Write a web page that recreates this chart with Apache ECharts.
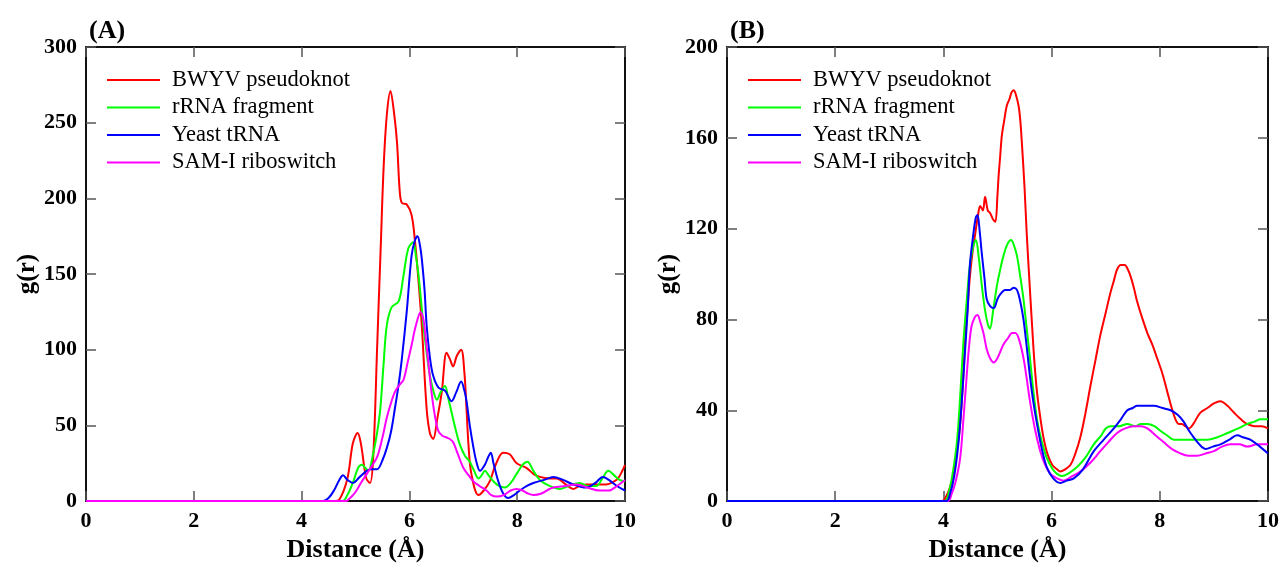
<!DOCTYPE html>
<html>
<head>
<meta charset="utf-8">
<script src="https://cdn.jsdelivr.net/npm/echarts@6/dist/echarts.min.js"></script>
<style>html,body{margin:0;padding:0;background:#fff}#c{width:1287px;height:568px}</style>
</head>
<body>
<div id="c"></div>
<script>
// ---------- data ----------
const seriesNames = ['BWYV pseudoknot', 'rRNA fragment', 'Yeast tRNA', 'SAM-I riboswitch'];
const seriesColors = ['#ff0000', '#00ff00', '#0000ff', '#ff00ff'];
const xTicksA = [0, 2, 4, 6, 8, 10];
const yTicksA = [0, 50, 100, 150, 200, 250, 300];
const yTicksB = [0, 40, 80, 120, 160, 200];

// Panel A
const bwyvA = [[0,0],[4.6,0],[4.7,1],[4.85,15],[4.95,38],[5.04,45],[5.1,38],[5.2,15],[5.27,12],[5.33,30],[5.4,100],[5.46,160],[5.55,240],[5.65,271],[5.72,255],[5.77,237],[5.82,205],[5.86,197],[5.95,196],[6.04,189],[6.1,173],[6.17,145],[6.23,116],[6.32,61],[6.38,45],[6.44,41],[6.52,55],[6.6,72],[6.69,98],[6.75,94],[6.81,89],[6.88,96],[6.96,100],[7.02,85],[7.06,61],[7.1,35],[7.15,18],[7.28,4],[7.38,7],[7.49,13],[7.6,24],[7.74,32],[7.86,31],[7.99,25],[8.17,22],[8.3,18],[8.42,16],[8.6,15],[8.73,15],[8.9,11],[9.04,8],[9.15,10],[9.28,11],[9.5,11],[9.65,11],[9.8,13],[9.87,15],[9.95,20],[10,24]];
const rrnaA = [[0,0],[4.75,0],[4.85,4],[4.95,12],[5.05,22],[5.12,24],[5.18,22],[5.24,20],[5.32,30],[5.4,45],[5.46,61],[5.52,90],[5.58,116],[5.67,128],[5.8,132],[5.89,149],[5.98,167],[6.07,171],[6.12,162],[6.17,149],[6.26,116],[6.32,98],[6.38,83],[6.45,72],[6.51,67],[6.58,72],[6.66,76],[6.72,68],[6.78,59],[6.86,47],[6.94,37],[7.03,30],[7.12,26],[7.2,20],[7.28,15],[7.34,17],[7.4,20],[7.47,17],[7.56,13],[7.66,10],[7.77,9],[7.88,12],[7.99,18],[8.1,24],[8.19,26],[8.3,20],[8.42,14],[8.6,10],[8.79,8],[8.95,10],[9.16,12],[9.3,10],[9.47,10],[9.58,15],[9.69,20],[9.8,17],[9.9,14],[10,13]];
const yeastA = [[0,0],[4.4,0],[4.5,2],[4.6,7],[4.7,14],[4.77,17],[4.85,14],[4.95,12],[5.08,16],[5.21,20],[5.3,21],[5.4,21],[5.5,27],[5.58,35],[5.66,46],[5.73,61],[5.8,77],[5.86,94],[5.95,125],[6.04,162],[6.1,172],[6.15,175],[6.2,168],[6.23,160],[6.28,140],[6.32,116],[6.38,95],[6.44,83],[6.54,75],[6.66,73],[6.78,66],[6.87,72],[6.96,79],[7.02,73],[7.06,66],[7.12,50],[7.19,35],[7.25,25],[7.31,20],[7.4,24],[7.46,29],[7.51,32],[7.56,25],[7.65,13],[7.74,5],[7.83,2],[7.94,4],[8.05,7],[8.18,10],[8.3,12],[8.5,14],[8.67,16],[8.85,14],[9.04,11],[9.28,9],[9.45,12],[9.59,16],[9.7,14],[9.85,10],[10,7]];
const samA = [[0,0],[4.82,0],[4.9,2],[5.0,6],[5.1,12],[5.21,18],[5.3,23],[5.4,29],[5.5,42],[5.58,55],[5.66,65],[5.73,72],[5.82,77],[5.89,80],[5.97,92],[6.04,103],[6.12,116],[6.21,125],[6.26,120],[6.29,112],[6.35,92],[6.41,72],[6.47,57],[6.54,46],[6.62,43],[6.69,42],[6.75,41],[6.81,39],[6.9,31],[7.0,22],[7.1,17],[7.19,13],[7.3,10],[7.43,7],[7.52,4],[7.62,3],[7.75,4],[7.88,7],[7.99,8],[8.1,7],[8.2,5],[8.3,4],[8.45,5],[8.6,8],[8.67,9],[8.9,10],[9.1,11],[9.3,9],[9.53,7],[9.7,7],[9.85,10],[10,14]];

// Panel B
const bwyvB = [[0,0],[3.98,0],[4.05,2],[4.12,6],[4.19,12],[4.25,22],[4.31,34],[4.36,52],[4.4,70],[4.45,86],[4.49,99],[4.54,110],[4.59,118],[4.64,126],[4.68,130],[4.73,128],[4.77,134],[4.82,128],[4.86,127],[4.92,124],[4.96,123],[5.0,135],[5.02,143],[5.05,152],[5.08,161],[5.12,167],[5.17,174],[5.22,177],[5.26,180],[5.3,181],[5.34,179],[5.39,174],[5.42,168],[5.45,158],[5.5,138],[5.54,118],[5.59,97],[5.64,77],[5.68,62],[5.73,48],[5.79,37],[5.85,28],[5.92,21],[6.01,16],[6.1,14],[6.16,13],[6.25,14],[6.35,16],[6.44,21],[6.53,28],[6.62,38],[6.72,51],[6.81,62],[6.9,73],[7.0,83],[7.09,92],[7.15,97],[7.21,102],[7.28,104],[7.35,104],[7.41,102],[7.46,99],[7.52,94],[7.58,88],[7.67,81],[7.77,74],[7.86,69],[7.95,63],[8.05,56],[8.14,48],[8.22,41],[8.29,36],[8.35,34],[8.41,34],[8.47,33],[8.54,32],[8.62,34],[8.75,39],[8.88,41],[9.0,43],[9.12,44],[9.25,42],[9.37,39],[9.5,36],[9.61,34],[9.75,33],[9.88,33],[10,32]];
const rrnaB = [[0,0],[4.02,0],[4.1,4],[4.17,12],[4.25,26],[4.31,46],[4.37,70],[4.43,88],[4.49,104],[4.55,112],[4.6,115],[4.65,108],[4.71,95],[4.77,84],[4.82,78],[4.86,76],[4.92,84],[4.99,95],[5.05,102],[5.11,108],[5.18,113],[5.25,115],[5.3,113],[5.36,108],[5.42,99],[5.48,89],[5.54,76],[5.6,63],[5.66,49],[5.73,36],[5.81,27],[5.91,19],[6.02,14],[6.1,12],[6.19,11],[6.3,12],[6.47,15],[6.62,19],[6.78,25],[6.92,29],[7.0,32],[7.09,33],[7.25,33],[7.4,34],[7.55,33],[7.65,34],[7.77,34],[7.9,33],[8.01,31],[8.13,29],[8.26,27],[8.4,27],[8.57,27],[8.72,27],[8.88,27],[9.05,28],[9.25,30],[9.45,32],[9.62,34],[9.75,35],[9.86,36],[10,36]];
const yeastB = [[0,0],[4.05,0],[4.12,3],[4.2,11],[4.28,26],[4.34,44],[4.4,66],[4.45,85],[4.49,104],[4.55,117],[4.6,125],[4.63,126],[4.67,119],[4.71,109],[4.76,98],[4.8,89],[4.86,86],[4.93,85],[5.0,89],[5.05,91],[5.14,93],[5.23,93],[5.3,94],[5.36,93],[5.42,88],[5.48,80],[5.54,68],[5.6,55],[5.66,44],[5.73,34],[5.82,23],[5.91,15],[6.03,10],[6.16,8],[6.28,9],[6.41,10],[6.58,14],[6.78,22],[6.96,27],[7.15,32],[7.28,36],[7.4,40],[7.5,41],[7.58,42],[7.72,42],[7.89,42],[8.05,41],[8.2,40],[8.33,38],[8.44,35],[8.54,31],[8.63,28],[8.73,25],[8.85,23],[8.98,24],[9.12,25],[9.28,27],[9.43,29],[9.55,28],[9.68,27],[9.85,24],[10,21]];
const samB = [[0,0],[4.08,0],[4.15,3],[4.23,9],[4.31,19],[4.37,36],[4.43,55],[4.47,67],[4.52,77],[4.58,81],[4.63,82],[4.68,79],[4.74,74],[4.8,67],[4.86,63],[4.93,61],[5.0,63],[5.11,69],[5.2,72],[5.27,74],[5.33,74],[5.4,71],[5.48,63],[5.54,54],[5.6,44],[5.69,32],[5.79,22],[5.88,16],[5.98,12],[6.1,10],[6.22,9],[6.38,11],[6.53,13],[6.72,17],[6.9,22],[7.05,26],[7.21,30],[7.36,32],[7.52,33],[7.65,33],[7.77,32],[7.92,29],[8.07,26],[8.22,23],[8.38,21],[8.53,20],[8.69,20],[8.85,21],[9.0,22],[9.15,24],[9.31,25],[9.47,25],[9.62,24],[9.8,25],[10,25]];

const dataA = [bwyvA, rrnaA, yeastA, samA];
const dataB = [bwyvB, rrnaB, yeastB, samB];
const zA = [3, 4, 5, 6];
const zB = [3, 4, 6, 5];

// ---------- chart ----------
const FONT = '"Liberation Serif", "Times New Roman", serif';
const chart = echarts.init(document.getElementById('c'), null, {renderer: 'canvas'});

const grids = [
  {left: 86, top: 47, width: 539, height: 457},
  {left: 727, top: 47, width: 541, height: 457}
];
const yMax = [300, 200];
const yInt = [50, 40];

const axisLine = {show: true, onZero: false, lineStyle: {color: '#111', width: 2}};
const tick = {show: true, inside: true, length: 10, lineStyle: {color: '#555', width: 1.5}};
const tickLabel = {fontFamily: FONT, fontWeight: 'bold', fontSize: 22, color: '#000'};

const xAxes = [], yAxes = [];
[0, 1].forEach(g => {
  xAxes.push({
    type: 'value', gridIndex: g, min: 0, max: 10, interval: 2, position: 'bottom',
    name: 'Distance (Å)', nameLocation: 'middle', nameGap: 34,
    nameTextStyle: {fontFamily: FONT, fontWeight: 'bold', fontSize: 26, color: '#000'},
    axisLine: axisLine, axisTick: tick, splitLine: {show: false},
    axisLabel: Object.assign({margin: 9}, tickLabel)
  });
  xAxes.push({
    type: 'value', gridIndex: g, min: 0, max: 10, interval: 2, position: 'top',
    axisLine: axisLine, axisTick: tick, splitLine: {show: false}, axisLabel: {show: false}
  });
  yAxes.push({
    type: 'value', gridIndex: g, min: 0, max: yMax[g], interval: yInt[g], position: 'left',
    name: 'g(r)', nameLocation: 'middle', nameGap: 46, nameRotate: 90,
    nameTextStyle: {fontFamily: FONT, fontWeight: 'bold', fontSize: 25, color: '#000'},
    axisLine: axisLine, axisTick: tick, splitLine: {show: false},
    axisLabel: Object.assign({margin: 9}, tickLabel)
  });
  yAxes.push({
    type: 'value', gridIndex: g, min: 0, max: yMax[g], interval: yInt[g], position: 'right',
    axisLine: axisLine, axisTick: tick, splitLine: {show: false}, axisLabel: {show: false}
  });
});

const series = [];
[dataA, dataB].forEach((panel, g) => {
  panel.forEach((d, i) => {
    series.push({
      type: 'line', name: seriesNames[i], data: d,
      xAxisIndex: g * 2, yAxisIndex: g * 2,
      symbol: 'none', smooth: 0.35, clip: true,
      lineStyle: {color: seriesColors[i], width: 2},
      itemStyle: {color: seriesColors[i]},
      z: (g === 0 ? zA : zB)[i], animation: false
    });
  });
});

const legendBase = {
  orient: 'vertical', top: 68, padding: 0, itemWidth: 53, itemHeight: 2, itemGap: 3.5,
  icon: 'rect', data: seriesNames, selectedMode: false,
  textStyle: {fontFamily: FONT, fontSize: 22.5, color: '#000', lineHeight: 24, padding: [0, 0, 0, 7]}
};

chart.setOption({
  animation: false,
  backgroundColor: '#fff',
  title: [
    {text: '(A)', left: 84, top: 13, textStyle: {fontFamily: FONT, fontWeight: 'bold', fontSize: 26, color: '#000'}},
    {text: '(B)', left: 725, top: 13, textStyle: {fontFamily: FONT, fontWeight: 'bold', fontSize: 26, color: '#000'}}
  ],
  grid: grids,
  xAxis: xAxes,
  yAxis: yAxes,
  legend: [
    Object.assign({left: 107}, legendBase),
    Object.assign({left: 748}, legendBase)
  ],
  series: series
});
</script>
</body>
</html>
